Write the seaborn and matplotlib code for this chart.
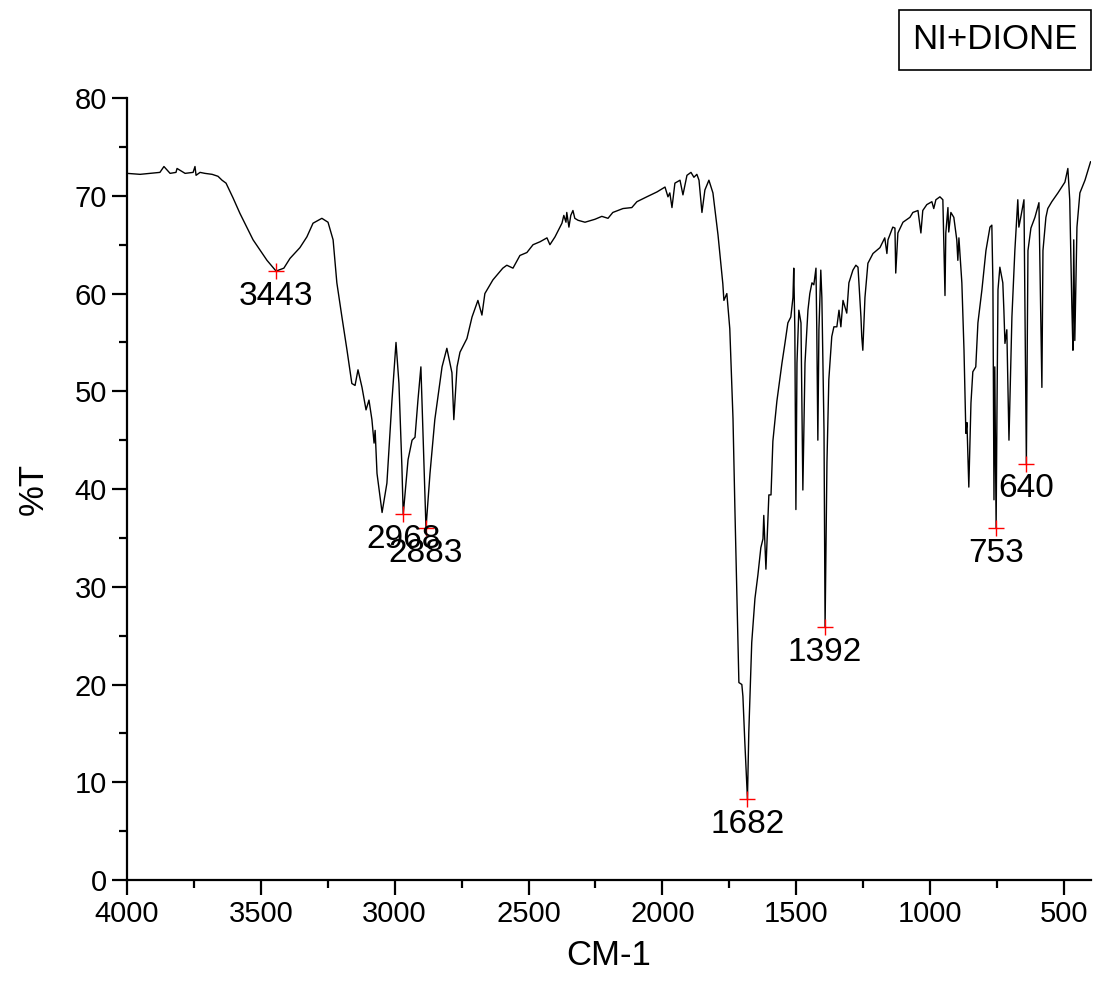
import numpy as np
import pandas as pd
import seaborn as sns
import matplotlib.pyplot as plt
from matplotlib.ticker import MultipleLocator

sns.set_style("ticks")
plt.rcParams['font.family'] = ['Liberation Sans', 'DejaVu Sans']
plt.rcParams.update({"text.color": "black", "axes.labelcolor": "black",
                     "xtick.color": "black", "ytick.color": "black",
                     "axes.edgecolor": "black"})

# IR spectrum (wavenumber cm-1, %T)
wavenumber = [
    4000, 3951, 3914, 3877, 3862, 3839, 3817, 3813, 3783, 3753, 3746, 3742, 3727, 3709, 3682, 3660,
    3645, 3630, 3604, 3578, 3529, 3477, 3443, 3414, 3391, 3354, 3328, 3305, 3272, 3249, 3230, 3216,
    3197, 3178, 3160, 3148, 3137, 3122, 3107, 3096, 3085, 3077, 3073, 3066, 3047, 3029, 3010, 2995,
    2984, 2973, 2968, 2950, 2935, 2924, 2913, 2902, 2894, 2883, 2868, 2850, 2823, 2805, 2786, 2779,
    2767, 2756, 2730, 2711, 2689, 2674, 2663, 2633, 2596, 2581, 2558, 2532, 2506, 2483, 2457, 2431,
    2420, 2401, 2375, 2368, 2360, 2357, 2349, 2342, 2334, 2327, 2315, 2289, 2252, 2226, 2203, 2185,
    2147, 2114, 2095, 2058, 2020, 1990, 1979, 1972, 1964, 1953, 1934, 1923, 1908, 1893, 1882, 1871,
    1863, 1852, 1841, 1826, 1811, 1792, 1774, 1770, 1759, 1748, 1736, 1729, 1721, 1714, 1703, 1699,
    1692, 1682, 1677, 1666, 1654, 1643, 1632, 1624, 1621, 1613, 1602, 1594, 1587, 1572, 1553, 1542,
    1531, 1520, 1512, 1509, 1505, 1501, 1497, 1490, 1482, 1475, 1467, 1456, 1449, 1441, 1434, 1426,
    1423, 1419, 1415, 1408, 1404, 1396, 1392, 1385, 1378, 1367, 1359, 1348, 1340, 1333, 1325, 1311,
    1303, 1288, 1277, 1269, 1258, 1255, 1251, 1243, 1232, 1213, 1187, 1169, 1161, 1157, 1139, 1131,
    1128, 1120, 1101, 1075, 1064, 1045, 1034, 1027, 1012, 993, 986, 978, 963, 952, 944, 941,
    933, 930, 922, 911, 900, 896, 892, 881, 873, 866, 862, 855, 847, 840, 829, 821,
    806, 791, 776, 769, 765, 761, 758, 753, 750, 746, 739, 728, 724, 720, 713, 705,
    694, 683, 672, 668, 661, 649, 640, 634, 623, 608, 593, 582, 578, 567, 560, 545,
    522, 496, 485, 478, 470, 466, 463, 459, 451, 440, 421, 410, 400,
]
transmittance = [
    72.3, 72.2, 72.3, 72.4, 73.0, 72.3, 72.4, 72.8, 72.3, 72.4, 73.0, 72.1, 72.4, 72.3, 72.2, 72.0,
    71.6, 71.3, 69.8, 68.2, 65.5, 63.4, 62.3, 62.6, 63.6, 64.7, 65.8, 67.2, 67.7, 67.3, 65.5, 61.1,
    57.6, 54.2, 50.8, 50.6, 52.2, 50.4, 48.1, 49.1, 47.1, 44.7, 46.0, 41.6, 37.6, 40.6, 49.1, 55.0,
    50.8, 42.3, 37.4, 43.0, 45.0, 45.3, 49.1, 52.5, 45.7, 36.0, 41.6, 47.1, 52.5, 54.4, 51.9, 47.1,
    52.5, 54.0, 55.4, 57.6, 59.3, 57.8, 60.0, 61.4, 62.6, 62.9, 62.6, 63.9, 64.2, 65.0, 65.3, 65.7,
    65.0, 65.8, 67.2, 68.0, 67.3, 68.3, 66.8, 68.0, 68.5, 67.7, 67.5, 67.3, 67.6, 67.9, 67.7, 68.3,
    68.7, 68.8, 69.4, 69.9, 70.4, 70.9, 69.9, 70.3, 68.8, 71.3, 71.6, 70.1, 72.1, 72.4, 71.9, 72.2,
    71.6, 68.3, 70.6, 71.6, 70.3, 66.0, 61.0, 59.3, 60.0, 56.4, 47.2, 38.1, 28.8, 20.2, 20.0, 18.8,
    14.2, 8.3, 15.1, 24.3, 28.8, 31.2, 34.0, 34.9, 37.3, 31.8, 39.4, 39.4, 44.9, 49.0, 52.9, 54.9,
    57.0, 57.6, 59.6, 62.6, 56.3, 37.9, 52.9, 58.3, 57.0, 39.9, 52.9, 58.3, 60.0, 61.1, 60.9, 62.6,
    56.3, 45.0, 56.3, 62.4, 59.6, 46.0, 25.9, 42.7, 51.2, 55.6, 56.6, 56.6, 58.3, 56.6, 59.3, 58.0,
    61.1, 62.4, 62.9, 62.7, 57.6, 55.6, 54.2, 59.6, 63.1, 64.1, 64.7, 65.7, 64.1, 65.5, 66.8, 66.7,
    62.1, 66.2, 67.3, 67.8, 68.3, 68.5, 66.2, 68.5, 69.1, 69.4, 68.7, 69.6, 69.9, 69.6, 59.8, 66.2,
    68.8, 66.3, 68.3, 67.8, 65.5, 63.4, 65.7, 61.1, 54.2, 45.7, 46.8, 40.2, 48.8, 52.0, 52.5, 57.0,
    60.4, 64.4, 66.8, 67.0, 61.1, 38.9, 52.5, 36.0, 47.4, 60.4, 62.7, 61.1, 58.3, 54.9, 56.3, 45.0,
    57.6, 64.4, 69.6, 66.8, 67.8, 69.6, 42.6, 64.4, 66.7, 67.8, 69.3, 50.4, 64.4, 67.8, 68.7, 69.4,
    70.3, 71.4, 72.8, 69.6, 58.6, 54.2, 65.5, 55.2, 66.8, 70.3, 71.6, 72.6, 73.5,
]

# labelled peaks
peak_wn = [3443, 2968, 2883, 1682, 1392, 753, 640]
peak_t = [62.3, 37.4, 36.0, 8.3, 25.9, 36.0, 42.6]

df = pd.DataFrame({"wn": wavenumber, "T": transmittance})

fig = plt.figure(figsize=(11.14, 9.96), dpi=100)
ax = fig.add_axes([0.114, 0.1165, 0.865, 0.785])

sns.lineplot(data=df, x="wn", y="T", color="black", linewidth=1.0,
             sort=False, estimator=None, ax=ax)
ax.plot(peak_wn, peak_t, linestyle="none", marker="+", color="red",
        markersize=11, markeredgewidth=1.0)
for w, t in zip(peak_wn, peak_t):
    ax.annotate(str(w), (w, t), xytext=(0, -7), textcoords="offset points",
                ha="center", va="top", fontsize=24)

ax.set_xlim(4000, 400)
ax.set_ylim(0, 80)
ax.xaxis.set_major_locator(MultipleLocator(500))
ax.xaxis.set_minor_locator(MultipleLocator(250))
ax.yaxis.set_major_locator(MultipleLocator(10))
ax.yaxis.set_minor_locator(MultipleLocator(5))
ax.tick_params(which="major", direction="out", length=11, width=1.6, labelsize=21)
ax.tick_params(which="minor", direction="out", length=6, width=1.6)
sns.despine(ax=ax)
for s in ["left", "bottom"]:
    ax.spines[s].set_linewidth(1.6)
ax.set_xlabel("CM-1", fontsize=25, labelpad=8)
ax.set_ylabel("%T", fontsize=25, labelpad=18)

fig.text(0.893, 0.96, "NI+DIONE", fontsize=25, ha="center", va="center",
         bbox=dict(boxstyle="square,pad=0.38", facecolor="white",
                   edgecolor="black", linewidth=1.2))

plt.savefig("out.png", dpi=100)
